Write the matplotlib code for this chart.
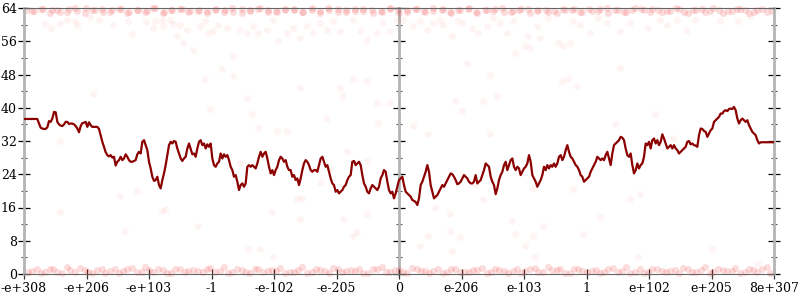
import numpy as np
import matplotlib
matplotlib.use("Agg")
import matplotlib.pyplot as plt
from matplotlib.ticker import MultipleLocator

# ---------------- data ----------------
tick_labels = ["-e+308", "-e+206", "-e+103", "-1", "-e-102", "-e-205", "0",
               "e-206", "e-103", "1", "e+102", "e+205", "8e+307"]
y_ticks = [0, 8, 16, 24, 32, 40, 48, 56, 64]

# running line, negative half (sampled evenly from left edge to centre)
line_left = [
    37.3, 37.3, 37.3, 37.3, 37.3, 37.3, 37.3, 37.3, 37.3,
    36.2, 35.2, 35.0, 34.9, 34.9, 35.3, 36.8, 36.6, 37.4, 39.0,
    38.9, 36.6, 36.0, 35.7, 35.6, 36.0, 36.6, 36.6, 36.1, 36.2,
    36.2, 36.0, 35.6, 35.0, 34.1, 35.6, 36.3, 36.4, 36.6, 35.4,
    36.5, 35.8, 35.4, 35.4, 35.4, 35.4, 34.9, 33.3, 31.8, 30.6,
    29.3, 28.6, 28.3, 28.6, 28.0, 28.2, 26.1, 27.0, 27.4, 28.2,
    27.4, 27.8, 28.8, 28.2, 27.4, 27.0, 27.0, 27.2, 27.4, 28.8,
    29.4, 29.0, 31.8, 32.2, 31.0, 29.8, 27.0, 25.4, 23.4, 22.4,
    22.6, 23.4, 21.4, 20.6, 22.6, 24.2, 26.2, 28.6, 31.0, 31.8,
    31.4, 32.0, 31.8, 30.2, 29.0, 27.8, 27.2, 27.8, 28.2, 30.2,
    31.4, 30.1, 28.8, 29.0, 28.2, 30.2, 31.8, 32.2, 31.0, 31.4,
    30.2, 31.2, 30.6, 31.4, 27.8, 26.2, 25.8, 26.6, 27.0, 29.0,
    27.8, 28.8, 28.2, 28.6, 27.4, 25.8, 25.0, 23.4, 23.8, 22.2,
    20.2, 21.4, 21.8, 21.0, 21.8, 25.8, 26.2, 25.8, 26.2, 25.8,
    25.4, 26.6, 28.2, 29.4, 28.2, 29.0, 29.4, 27.8, 25.8, 24.2,
    25.0, 23.8, 25.0, 25.8, 27.4, 28.2, 27.8, 27.0, 27.4, 25.8,
    25.0, 25.0, 23.4, 23.8, 22.6, 23.0, 21.4, 23.0, 25.0, 26.6,
    27.4, 27.0, 26.2, 25.0, 24.6, 25.0, 25.0, 24.6, 26.2, 27.8,
    28.2, 27.0, 25.8, 26.2, 24.6, 23.0, 21.8, 21.4, 19.8, 20.2,
    19.4, 19.8, 20.2, 21.0, 21.4, 22.6, 23.4, 23.8, 27.0, 27.2,
    26.2, 26.6, 27.0, 26.2, 23.8, 21.8, 21.0, 19.8, 19.4, 20.6,
    21.4, 21.0, 20.6, 20.2, 21.0, 23.0, 23.8, 25.0, 24.6, 22.2,
    20.2, 19.4, 19.8, 18.2, 19.4, 21.0,
]
# running line, positive half (centre to right edge)
line_right = [
    22.6, 23.0, 23.4, 21.4, 19.8, 19.4, 19.0, 18.6, 17.8, 17.6,
    17.3, 16.6, 18.2, 21.4, 22.2, 23.4, 24.6, 26.2, 24.6, 21.4,
    19.8, 18.2, 18.6, 19.0, 19.8, 20.6, 21.4, 21.0, 21.8, 22.6,
    23.4, 24.2, 24.0, 23.4, 22.6, 21.6, 21.8, 22.2, 23.0, 23.8,
    23.4, 23.0, 22.2, 21.8, 21.8, 22.2, 23.8, 21.8, 22.2, 22.6,
    23.8, 25.0, 26.6, 26.2, 25.8, 23.4, 22.2, 21.4, 19.2, 20.6,
    22.6, 23.8, 24.6, 26.2, 27.0, 25.0, 26.2, 27.4, 27.8, 25.8,
    25.0, 25.8, 25.4, 23.8, 24.6, 25.4, 25.8, 26.6, 28.6, 27.0,
    23.8, 23.0, 22.2, 21.0, 21.8, 22.6, 23.8, 25.8, 25.0, 26.2,
    25.4, 26.2, 25.8, 26.6, 25.8, 26.6, 28.2, 28.6, 27.4, 28.2,
    29.8, 31.0, 29.4, 28.2, 27.8, 27.0, 26.2, 25.8, 25.0, 23.8,
    23.4, 22.2, 22.6, 23.0, 23.4, 24.6, 25.4, 26.2, 27.0, 28.2,
    27.8, 27.4, 27.8, 27.4, 28.6, 29.4, 27.8, 26.2, 29.0, 31.0,
    31.4, 31.8, 32.2, 33.0, 32.8, 32.2, 30.2, 28.6, 28.2, 29.0,
    26.2, 24.2, 25.0, 26.6, 25.4, 26.2, 26.6, 28.2, 31.4, 31.0,
    31.8, 30.2, 32.2, 32.6, 31.4, 32.2, 31.0, 31.8, 33.6, 32.6,
    31.4, 30.2, 30.6, 31.0, 30.2, 31.0, 30.2, 29.8, 29.0, 29.4,
    29.8, 30.2, 30.6, 31.8, 32.0, 31.2, 31.4, 31.0, 30.9, 30.6,
    33.4, 35.0, 34.9, 34.4, 34.2, 33.0, 33.8, 34.6, 35.0, 36.6,
    37.0, 37.4, 37.8, 38.6, 38.6, 39.2, 39.4, 39.2, 39.7, 39.8,
    39.7, 40.2, 39.4, 37.4, 36.2, 37.0, 37.4, 37.0, 36.6, 37.0,
    35.8, 35.0, 34.2, 33.8, 33.4, 32.2, 31.4, 31.7, 31.7, 31.7,
    31.7, 31.7, 31.7, 31.7, 31.7, 31.7,
]

# dense bands of faint samples along 0 and 64
band_low_x = [0.06, 0.2, 0.33, 0.47, 0.61, 0.74, 0.9, 1.02, 1.17, 1.3,
              1.45, 1.59, 1.72, 1.88, 2.0, 2.15, 2.29, 2.42, 2.57, 2.7,
              2.86, 2.98, 3.13, 3.27, 3.4, 3.55, 3.69, 3.83, 3.97, 4.1,
              4.25, 4.39, 4.52, 4.67, 4.81, 4.95, 5.08, 5.23, 5.36, 5.51,
              5.65, 5.79, 5.93, 6.06, 6.2, 6.35, 6.48, 6.63, 6.77, 6.9,
              7.05, 7.18, 7.33, 7.47, 7.6, 7.75, 7.89, 8.02, 8.17, 8.31,
              8.45, 8.58, 8.73, 8.87, 9.0, 9.15, 9.28, 9.43, 9.57, 9.7,
              9.85, 9.99, 10.12, 10.27, 10.41, 10.55, 10.68, 10.83, 10.97, 11.1,
              11.25, 11.38, 11.53, 11.67, 11.8, 11.94]
band_low_y = [0.4, 1.1, 0.6, 1.3, 0.3, 0.9, 1.5, 0.5, 1.0, 0.3,
              1.2, 0.7, 1.4, 0.4, 0.9, 1.1, 0.3, 1.3, 0.6, 1.0,
              0.5, 1.4, 0.8, 0.3, 1.1, 0.6, 1.3, 0.4, 0.9, 1.5,
              0.5, 1.0, 0.3, 1.2, 0.7, 1.4, 0.4, 0.9, 1.1, 0.3,
              1.3, 0.6, 1.0, 0.5, 1.4, 0.8, 0.3, 1.1, 0.6, 1.3,
              0.4, 0.9, 1.5, 0.5, 1.0, 0.3, 1.2, 0.7, 1.4, 0.4,
              0.9, 1.1, 0.3, 1.3, 0.6, 1.0, 0.5, 1.4, 0.8, 0.3,
              1.1, 0.6, 1.3, 0.4, 0.9, 1.5, 0.5, 1.0, 0.3, 1.2,
              0.7, 1.4, 0.4, 0.9, 1.1, 0.3]
band_high_x = [0.03, 0.16, 0.3, 0.44, 0.57, 0.72, 0.85, 0.99, 1.13, 1.27,
               1.4, 1.55, 1.68, 1.82, 1.96, 2.1, 2.24, 2.37, 2.52, 2.65,
               2.8, 2.93, 3.07, 3.21, 3.35, 3.49, 3.62, 3.77, 3.9, 4.05,
               4.18, 4.32, 4.46, 4.6, 4.74, 4.87, 5.02, 5.15, 5.3, 5.43,
               5.57, 5.71, 5.85, 5.98, 6.12, 6.26, 6.4, 6.54, 6.68, 6.82,
               6.95, 7.1, 7.23, 7.37, 7.51, 7.65, 7.79, 7.92, 8.07, 8.2,
               8.35, 8.48, 8.62, 8.76, 8.9, 9.04, 9.18, 9.32, 9.45, 9.6,
               9.73, 9.87, 10.01, 10.15, 10.29, 10.43, 10.56, 10.71, 10.84, 10.98,
               11.12, 11.26, 11.4, 11.53, 11.68, 11.81, 11.96]
band_high_y = [63.6, 63.2, 63.8, 63.4, 63.0, 63.7, 63.3, 63.9, 63.5, 63.1,
               63.4, 63.8, 63.1, 63.6, 63.3, 63.9, 63.0, 63.5, 63.7, 63.2,
               63.6, 63.2, 63.8, 63.4, 63.0, 63.7, 63.3, 63.9, 63.5, 63.1,
               63.4, 63.8, 63.1, 63.6, 63.3, 63.9, 63.0, 63.5, 63.7, 63.2,
               63.6, 63.2, 63.8, 63.4, 63.0, 63.7, 63.3, 63.9, 63.5, 63.1,
               63.4, 63.8, 63.1, 63.6, 63.3, 63.9, 63.0, 63.5, 63.7, 63.2,
               63.6, 63.2, 63.8, 63.4, 63.0, 63.7, 63.3, 63.9, 63.5, 63.1,
               63.4, 63.8, 63.1, 63.6, 63.3, 63.9, 63.0, 63.5, 63.7, 63.2,
               63.6, 63.2, 63.8, 63.4, 63.0, 63.7, 63.3]
# second row of band samples
band2_x = [0.12, 0.27, 0.41, 0.53, 0.68, 0.81, 0.97, 1.09, 1.24, 1.37,
           1.52, 1.65, 1.8, 1.94, 2.07, 2.22, 2.35, 2.5, 2.63, 2.78,
           2.92, 3.05, 3.2, 3.33, 3.48, 3.62, 3.75, 3.9, 4.03, 4.18,
           4.32, 4.45, 4.6, 4.73, 4.88, 5.02, 5.15, 5.3, 5.43, 5.58,
           5.72, 5.85, 6.0, 6.13, 6.28, 6.42, 6.55, 6.7, 6.83, 6.98,
           7.12, 7.25, 7.4, 7.53, 7.68, 7.82, 7.95, 8.1, 8.23, 8.38,
           8.52, 8.65, 8.8, 8.93, 9.08, 9.22, 9.35, 9.5, 9.63, 9.78,
           9.92, 10.05, 10.2, 10.33, 10.48, 10.62, 10.75, 10.9, 11.03, 11.18,
           11.32, 11.45, 11.6, 11.73, 11.88]
band2_low_y = [0.8, 0.2, 1.2, 0.6, 1.7, 0.4, 1.0, 0.2, 1.3, 0.7,
               0.2, 1.2, 0.6, 1.7, 0.4, 1.0, 0.2, 1.3, 0.7, 0.8,
               1.2, 0.6, 1.7, 0.4, 1.0, 0.2, 1.3, 0.7, 0.8, 0.2,
               0.6, 1.7, 0.4, 1.0, 0.2, 1.3, 0.7, 0.8, 0.2, 1.2,
               1.7, 0.4, 1.0, 0.2, 1.3, 0.7, 0.8, 0.2, 1.2, 0.6,
               0.4, 1.0, 0.2, 1.3, 0.7, 0.8, 0.2, 1.2, 0.6, 1.7,
               1.0, 0.2, 1.3, 0.7, 0.8, 0.2, 1.2, 0.6, 1.7, 0.4,
               0.2, 1.3, 0.7, 0.8, 0.2, 1.2, 0.6, 1.7, 0.4, 1.0,
               0.8, 0.2, 1.2, 0.6, 1.7]
band2_high_y = [63.3, 63.8, 62.9, 63.5, 63.1, 63.9, 62.8, 63.4, 63.7, 63.0,
                63.8, 62.9, 63.5, 63.1, 63.9, 62.8, 63.4, 63.7, 63.0, 63.3,
                62.9, 63.5, 63.1, 63.9, 62.8, 63.4, 63.7, 63.0, 63.3, 63.8,
                63.5, 63.1, 63.9, 62.8, 63.4, 63.7, 63.0, 63.3, 63.8, 62.9,
                63.1, 63.9, 62.8, 63.4, 63.7, 63.0, 63.3, 63.8, 62.9, 63.5,
                63.9, 62.8, 63.4, 63.7, 63.0, 63.3, 63.8, 62.9, 63.5, 63.1,
                62.8, 63.4, 63.7, 63.0, 63.3, 63.8, 62.9, 63.5, 63.1, 63.9,
                63.4, 63.7, 63.0, 63.3, 63.8, 62.9, 63.5, 63.1, 63.9, 62.8,
                63.3, 63.8, 62.9, 63.5, 63.1]

# scattered samples
scatter_points = [
    (0.34, 60.2), (0.43, 59.2), (0.57, 60.4), (0.68, 61.0), (0.82, 60.8), (0.84, 60.0),
    (1.06, 61.8), (1.2, 61.2), (1.43, 60.0), (1.67, 60.8), (1.73, 57.8), (1.95, 60.6),
    (2.07, 59.2), (2.1, 60.8), (2.2, 61.0), (2.23, 59.6), (2.34, 61.2), (2.39, 60.2),
    (2.44, 57.2), (2.5, 60.0), (2.55, 55.6), (2.6, 58.8), (2.71, 54.0), (2.82, 59.6),
    (2.9, 60.8), (2.95, 58.0), (3.03, 58.4), (3.11, 60.0), (3.16, 49.4), (3.24, 59.2),
    (3.35, 47.6), (3.35, 52.4), (3.46, 58.8), (3.56, 58.0), (3.67, 59.6), (3.75, 58.0),
    (3.88, 58.8), (3.99, 61.2), (4.07, 56.0), (4.2, 58.0), (4.3, 59.2), (4.42, 56.8),
    (4.52, 59.6), (4.63, 58.0), (4.74, 60.4), (4.84, 58.8), (4.95, 60.8), (5.06, 58.4),
    (5.27, 61.2), (5.38, 58.4), (5.48, 56.4), (5.64, 58.0), (5.75, 60.4), (5.86, 58.4),
    (5.96, 61.2),
    (4.42, 44.8), (5.06, 44.8), (5.64, 41.2), (5.27, 46.8), (5.48, 46.4), (4.84, 37.2),
    (4.2, 34.4), (3.56, 42.4), (3.64, 38.4), (2.98, 39.6), (2.9, 46.8), (1.11, 43.2),
    (0.58, 32.0), (3.75, 35.2), (4.04, 34.4), (5.66, 36.4), (5.86, 41.2), (5.11, 42.8),
    (6.06, 61.2), (6.22, 59.6), (6.34, 60.8), (6.45, 58.8), (6.55, 60.4), (6.66, 61.2),
    (6.71, 60.0), (6.85, 57.2), (6.95, 60.8), (7.03, 60.4), (7.17, 59.2), (7.27, 58.0),
    (7.41, 59.6), (7.51, 61.6), (7.62, 60.4), (7.73, 58.0), (7.82, 60.8), (7.86, 53.2),
    (8.02, 54.8), (8.07, 57.2), (8.1, 54.4), (8.21, 59.6), (8.26, 56.8), (8.39, 61.6),
    (8.55, 55.6), (8.63, 54.8), (8.74, 55.6), (8.79, 60.8), (8.9, 60.0), (9.06, 58.0),
    (9.19, 61.6), (9.32, 60.4), (9.54, 58.4), (9.7, 60.4), (9.99, 59.2), (10.18, 61.2),
    (10.29, 60.0), (10.45, 61.2), (10.61, 58.4), (10.74, 61.2), (11.14, 60.8), (11.42, 60.8),
    (11.62, 62.0),
    (7.09, 50.8), (7.46, 48.0), (7.57, 42.8), (7.34, 41.6), (6.9, 41.6), (7.0, 39.2),
    (8.61, 46.4), (8.7, 46.8), (8.85, 45.2), (9.54, 49.6), (10.1, 38.4), (9.46, 36.0),
    (6.22, 35.6), (6.46, 33.6), (7.46, 33.6), (10.38, 32.8),
    (0.58, 14.8), (1.54, 18.8), (1.81, 20.0), (1.62, 10.4), (2.2, 15.2), (2.26, 15.6),
    (2.79, 11.6), (3.59, 6.0), (3.78, 6.0), (3.99, 4.0), (3.97, 14.8), (3.46, 26.8),
    (4.42, 13.2), (4.37, 18.0), (4.44, 18.4), (4.74, 22.0), (5.11, 13.2), (5.27, 9.2),
    (5.33, 10.0), (5.48, 14.4), (5.17, 29.6), (5.48, 27.2), (4.9, 25.2),
    (6.58, 16.0), (6.82, 14.4), (6.82, 10.4), (6.46, 9.2), (6.34, 6.8), (6.98, 8.8),
    (6.85, 5.6), (7.34, 18.0), (7.81, 12.8), (7.86, 9.6), (8.3, 11.6), (8.14, 9.2),
    (8.02, 6.8), (8.18, 4.0), (8.79, 20.4), (8.94, 9.6), (9.22, 13.6), (9.7, 18.0),
    (9.86, 19.2), (9.82, 4.0), (11.01, 6.0), (7.22, 21.6), (8.14, 20.8), (11.74, 2.4),
]

# ---------------- figure ----------------
plt.rcParams['font.family'] = ['DejaVu Serif']
fig = plt.figure(figsize=(8, 3), dpi=100)
L, B, W, H = 24 / 800, 26 / 300, 750 / 800, 266 / 300
ax = fig.add_axes([L, B, W, H])

n_ticks = len(tick_labels)
line_y = np.array(line_left + line_right)
line_x = np.linspace(0, n_ticks - 1, len(line_y))

sx, sy = zip(*scatter_points)
ax.scatter(sx, sy, s=26, color='#ff0000', alpha=0.045, linewidths=0, zorder=2)
band_kw = dict(s=26, color='#ee1111', alpha=0.14, linewidths=0, zorder=2, clip_on=False)
ax.scatter(band_low_x, band_low_y, **band_kw)
ax.scatter(band2_x, band2_low_y, **band_kw)
ax.scatter(band_high_x, band_high_y, **band_kw)
ax.scatter(band2_x, band2_high_y, **band_kw)
ax.plot(line_x, line_y, color='#8b0000', lw=1.6, zorder=3)

ax.set_xlim(0, n_ticks - 1)
ax.set_ylim(y_ticks[0], y_ticks[-1])
ax.set_xticks(np.arange(n_ticks))
ax.set_xticklabels(tick_labels)
ax.set_yticks(y_ticks)
ax.yaxis.set_minor_locator(MultipleLocator(4))

for side in ('left', 'right'):
    ax.spines[side].set_color('#b4b4b4')
    ax.spines[side].set_linewidth(2.0)
for side in ('top', 'bottom'):
    ax.spines[side].set_color('#666666')
    ax.spines[side].set_linewidth(0.8)

ax.tick_params(axis='y', which='major', direction='inout', length=8.6, width=0.9,
               color='black', left=True, right=True, labelsize=9, pad=1)
ax.tick_params(axis='y', which='minor', direction='inout', length=4.3, width=0.8,
               color='#555555', left=True, right=True)
ax.tick_params(axis='x', which='major', direction='inout', length=6.5, width=0.9,
               color='#333333', labelsize=9, pad=2.5)

# middle vertical axis at the "0" position
mid_frac = L + W * (n_ticks // 2) / (n_ticks - 1)
axm = fig.add_axes([mid_frac, B, 1e-6, H])
axm.patch.set_visible(False)
axm.set_ylim(y_ticks[0], y_ticks[-1])
axm.set_xticks([])
axm.set_yticks(y_ticks)
axm.yaxis.set_minor_locator(MultipleLocator(4))
for side in ('top', 'bottom', 'right'):
    axm.spines[side].set_visible(False)
axm.spines['left'].set_color('#b4b4b4')
axm.spines['left'].set_linewidth(2.0)
axm.tick_params(axis='y', which='major', direction='inout', length=8.6, width=0.9,
                color='black', labelleft=False)
axm.tick_params(axis='y', which='minor', direction='inout', length=4.3, width=0.8,
                color='#555555')
axm.set_zorder(ax.get_zorder() - 1)
ax.patch.set_visible(False)

fig.savefig('out.png', dpi=100, facecolor='white')
